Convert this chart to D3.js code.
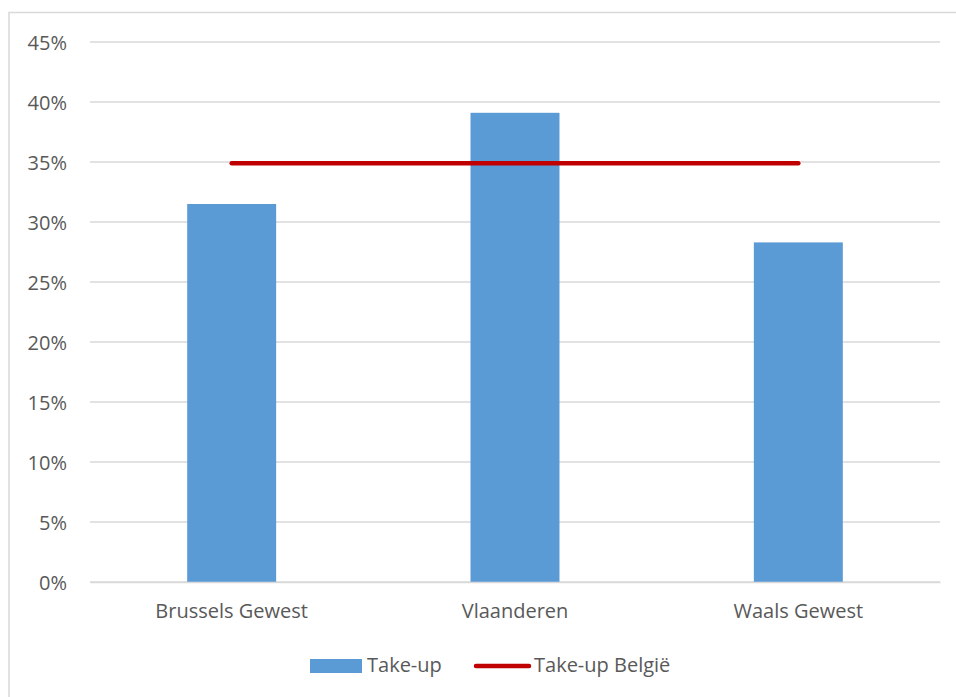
<!DOCTYPE html>
<html><head><meta charset="utf-8">
<script src="https://cdn.jsdelivr.net/npm/d3@7"></script>
<style>
html,body{margin:0;padding:0;background:#fff;}
svg text{font-family:"Open Sans",sans-serif;fill:#595959;}
</style></head>
<body><svg id="c" width="956" height="697"></svg>
<script>
const categories = ["Brussels Gewest", "Vlaanderen", "Waals Gewest"];
const takeUp = [0.315, 0.391, 0.283];
const takeUpBelgie = [0.349, 0.349, 0.349];
const yTicks = [0, 0.05, 0.10, 0.15, 0.20, 0.25, 0.30, 0.35, 0.40, 0.45];
const seriesNames = ["Take-up", "Take-up België"];

const svg = d3.select("#c");
const W = 956, H = 697;
const m = {left: 90, right: 16, top: 42, bottom: 115};
const x0 = m.left, x1 = W - m.right, y0 = H - m.bottom, y1 = m.top;
const FS = 20;

// outer border
svg.append("rect").attr("x", 9).attr("y", 12.5).attr("width", 960).attr("height", 700)
  .attr("fill", "none").attr("stroke", "#d9d9d9").attr("stroke-width", 1.5);

const x = d3.scaleBand().domain(categories).range([x0, x1]).paddingInner(0.686).paddingOuter(0.343);
const y = d3.scaleLinear().domain([0, 0.45]).range([y0, y1]);

// gridlines
svg.append("g").selectAll("line").data(yTicks).join("line")
  .attr("x1", x0).attr("x2", x1)
  .attr("y1", d => y(d)).attr("y2", d => y(d))
  .attr("stroke", "#d9d9d9").attr("stroke-width", 1.3);

// y axis labels
const yAxis = d3.axisLeft(y).tickValues(yTicks).tickFormat(d3.format(".0%")).tickSize(0).tickPadding(23);
const gy = svg.append("g").attr("transform", `translate(${x0},0)`).call(yAxis);
gy.select(".domain").remove();
gy.selectAll("text").attr("font-size", FS).attr("font-family", "Open Sans").style("fill", "#595959").attr("dy", "0.35em");

// bars
svg.append("g").selectAll("rect").data(takeUp).join("rect")
  .attr("x", (d, i) => x(categories[i]))
  .attr("width", x.bandwidth())
  .attr("y", d => y(d))
  .attr("height", d => y(0) - y(d))
  .attr("fill", "#5b9bd5");

// x axis
const xAxis = d3.axisBottom(x).tickSize(0).tickPadding(22);
const gx = svg.append("g").attr("transform", `translate(0,${y0})`).call(xAxis);
gx.select(".domain").attr("stroke", "#d9d9d9").attr("stroke-width", 1.3);
gx.selectAll("text").attr("font-size", FS).attr("font-family", "Open Sans").style("fill", "#595959");

// line
const line = d3.line().x((d, i) => x(categories[i]) + x.bandwidth() / 2).y(d => y(d));
svg.append("path").datum(takeUpBelgie).attr("d", line)
  .attr("fill", "none").attr("stroke", "#c00000").attr("stroke-width", 4.5).attr("stroke-linecap", "round");

// legend
const lg = svg.append("g");
lg.append("rect").attr("x", 310).attr("y", 659).attr("width", 52).attr("height", 14).attr("fill", "#5b9bd5");
lg.append("text").attr("x", 367).attr("y", 665).attr("dy", "0.35em").attr("font-size", FS).text(seriesNames[0]);
lg.append("line").attr("x1", 476).attr("x2", 529).attr("y1", 666).attr("y2", 666)
  .attr("stroke", "#c00000").attr("stroke-width", 4.5).attr("stroke-linecap", "round");
lg.append("text").attr("x", 534).attr("y", 665).attr("dy", "0.35em").attr("font-size", FS).text(seriesNames[1]);
</script></body></html>
